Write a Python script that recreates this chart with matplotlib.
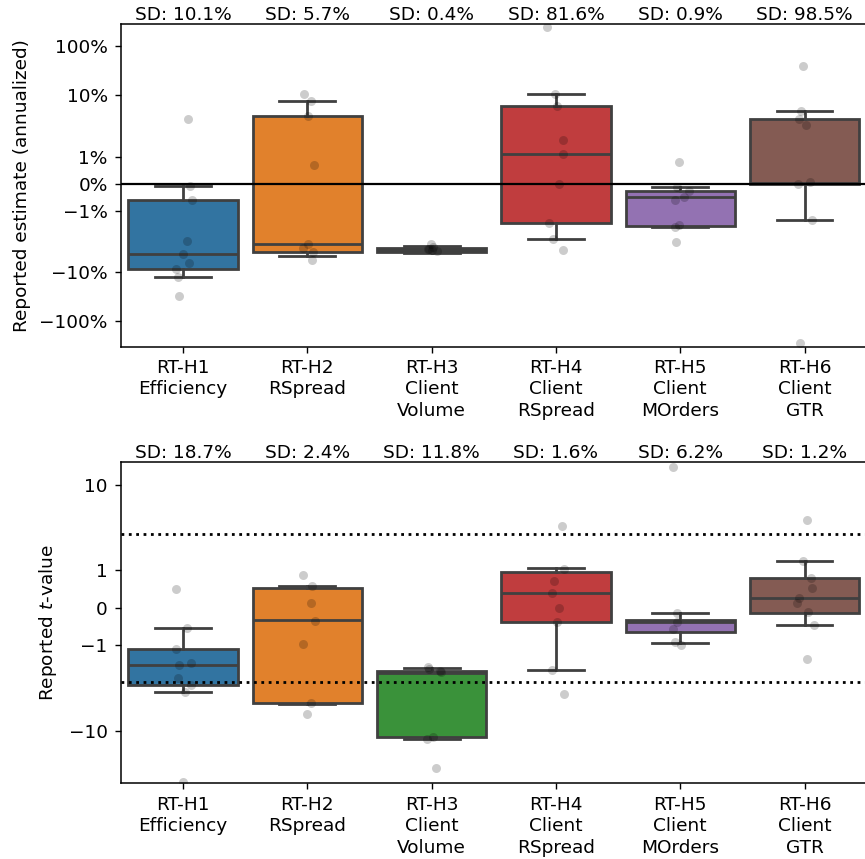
import matplotlib
matplotlib.use('Agg')
import matplotlib.pyplot as plt
from matplotlib.ticker import FixedLocator, FuncFormatter, NullLocator

# ---------------- data ----------------
categories = ['RT-H1\nEfficiency', 'RT-H2\nRSpread', 'RT-H3\nClient\nVolume',
              'RT-H4\nClient\nRSpread', 'RT-H5\nClient\nMOrders', 'RT-H6\nClient\nGTR']
colors = ['#3274a1', '#e1812c', '#3a923a', '#c03d3e', '#9372b2', '#845b53']

# top panel: reported estimate (annualized, %)
est_sd = [10.1, 5.7, 0.4, 81.6, 0.9, 98.5]
est_whislo = [-12.8, -4.7, -4.0, -2.07, -1.58, -1.35]
est_q1 = [-8.76, -3.87, -3.85, -1.46, -1.55, 0.0]
est_med = [-4.26, -2.7, -3.5, 1.09, -0.48, 0.03]
est_q3 = [-0.60, 3.76, -3.27, 6.04, -0.26, 3.27]
est_whishi = [-0.07, 7.5, -2.96, 10.5, -0.11, 4.7]

est_h1 = [3.3, -0.07, -0.6, -2.34, -4.3, -6.4, -8.8, -12.8, -30.9]
est_h2 = [10.8, 7.5, 3.76, 0.70, -2.7, -3.25, -3.9, -5.6]
est_h3 = [-2.6, -3.0, -3.3, -3.4, -3.5, -3.7]
est_h4 = [251.0, 10.8, 6.0, 1.6, 1.09, 0.0, -1.45, -2.07, -3.5]
est_h5 = [0.80, -0.12, -0.26, -0.48, -0.61, -1.51, -1.61, -2.38]
est_h6 = [40.4, 4.7, 3.27, 2.5, 0.0, 0.06, -1.35, -288.0]
est_points = [est_h1, est_h2, est_h3, est_h4, est_h5, est_h6]

# bottom panel: reported t-value
t_sd = [18.7, 2.4, 11.8, 1.6, 6.2, 1.2]
t_whislo = [-2.72, -4.0, -13.3, -1.65, -0.94, -0.47]
t_q1 = [-2.13, -3.87, -12.3, -0.37, -0.63, -0.13]
t_med = [-1.52, -0.33, -1.72, 0.38, -0.37, 0.25]
t_q3 = [-1.08, 0.53, -1.67, 0.95, -0.33, 0.79]
t_whishi = [-0.55, 0.58, -1.59, 1.05, -0.13, 1.25]

t_h1 = [0.50, -0.55, -1.08, -1.52, -1.46, -1.85, -2.13, -2.72, -56.4]
t_h2 = [0.87, 0.57, 0.12, -0.34, -0.97, -3.85, -5.74]
t_h3 = [-1.56, -1.62, -1.67, -1.70, -12.3, -13.2, -35.7]
t_h4 = [2.47, 1.02, 0.70, 0.39, 0.0, -0.37, -1.65, -2.91]
t_h5 = [18.0, -0.13, -0.37, -0.56, -0.91, -0.99]
t_h6 = [3.03, 1.25, 0.78, 0.53, 0.25, 0.12, -0.12, -0.47, -1.35]
t_points = [t_h1, t_h2, t_h3, t_h4, t_h5, t_h6]

t_crit = 1.96

# horizontal strip offsets (layout only)
est_jit = [
    [0.043, 0.056, 0.068, 0.035, -0.005, 0.048, -0.059, -0.040, -0.032],
    [-0.028, 0.028, 0.006, 0.055, 0.002, -0.039, 0.047, 0.039],
    [-0.008, 0.008, -0.020, -0.027, 0.000, 0.040],
    [-0.072, -0.005, 0.009, 0.057, 0.057, 0.027, -0.053, -0.026, 0.055],
    [-0.006, -0.023, 0.069, 0.031, -0.043, -0.006, -0.043, -0.033],
    [-0.016, -0.029, -0.043, 0.011, -0.051, 0.046, 0.064, -0.040],
]
t_jit = [
    [-0.061, 0.035, -0.061, -0.037, 0.060, -0.045, 0.060, 0.014, -0.005],
    [-0.039, 0.036, 0.031, 0.058, -0.034, 0.026, -0.002],
    [-0.027, -0.019, 0.067, 0.075, 0.013, -0.040, 0.035],
    [0.047, 0.065, -0.015, -0.034, 0.023, 0.011, -0.029, 0.065],
    [-0.055, -0.027, -0.027, -0.055, -0.041, 0.007],
    [0.022, -0.013, 0.054, 0.064, -0.043, -0.059, 0.032, 0.078, 0.019],
]

est_ticks = [-100, -10, -1, 0, 1, 10, 100]
t_ticks = [-10, -1, 0, 1, 10]

# ---------------- figure ----------------
FS = 13.3
plt.rcParams['font.family'] = ['DejaVu Sans']
plt.rcParams['font.size'] = FS
plt.rcParams['axes.linewidth'] = 1.1

fig = plt.figure(figsize=(8.65, 8.59), dpi=100)
ax1 = fig.add_axes([0.1399, 0.5964, 0.8620, 0.3757])
ax2 = fig.add_axes([0.1399, 0.0881, 0.8620, 0.3744])

GRAY = '#404040'


def draw(ax, whislo, q1, med, q3, whishi, points, jit, sds):
    stats = []
    for i in range(len(categories)):
        stats.append(dict(whislo=whislo[i], q1=q1[i], med=med[i], q3=q3[i],
                          whishi=whishi[i], fliers=[]))
    bp = ax.bxp(stats, positions=list(range(len(categories))), widths=0.88,
                capwidths=0.45, patch_artist=True, showfliers=False,
                manage_ticks=False,
                boxprops=dict(edgecolor=GRAY, linewidth=2),
                whiskerprops=dict(color=GRAY, linewidth=2),
                capprops=dict(color=GRAY, linewidth=2),
                medianprops=dict(color=GRAY, linewidth=2))
    for patch, c in zip(bp['boxes'], colors):
        patch.set_facecolor(c)
        patch.set_zorder(2)
    for i, (vals, offs) in enumerate(zip(points, jit)):
        xs = [i + o for o in offs]
        ax.scatter(xs, vals, s=42, color='black', alpha=0.2, linewidths=0,
                   zorder=4)
    ax.set_yscale('symlog', linthresh=2, linscale=1)
    ax.set_xlim(-0.5, len(categories) - 0.5)
    ax.set_xticks(range(len(categories)))
    ax.set_xticklabels(categories, linespacing=1.25)
    ax.tick_params(axis='x', length=4.3, width=1.0, pad=4.5, labelsize=FS)
    ax.tick_params(axis='y', length=4.3, width=1.0, pad=5.3, labelsize=FS)
    ax.yaxis.set_minor_locator(NullLocator())
    for i, sd in enumerate(sds):
        ax.annotate(f'SD: {sd}%', xy=(i, 1.0), xycoords=('data', 'axes fraction'),
                    xytext=(0, 2.5), textcoords='offset points',
                    ha='center', va='baseline', fontsize=FS)


draw(ax1, est_whislo, est_q1, est_med, est_q3, est_whishi, est_points, est_jit, est_sd)
ax1.axhline(0, color='black', linewidth=1.6, zorder=3)
ax1.set_ylim(-335, 287)
ax1.yaxis.set_major_locator(FixedLocator(est_ticks))
ax1.yaxis.set_major_formatter(FuncFormatter(
    lambda v, p: f'{v:.0f}%'.replace('-', '\u2212')))
ax1.set_ylabel('Reported estimate (annualized)', fontsize=FS)
ax1.yaxis.set_label_coords(-0.1208, 0.5)

draw(ax2, t_whislo, t_q1, t_med, t_q3, t_whishi, t_points, t_jit, t_sd)
ax2.axhline(t_crit, color='black', linewidth=2, linestyle=':', zorder=3)
ax2.axhline(-t_crit, color='black', linewidth=2, linestyle=':', zorder=3)
ax2.set_ylim(-59.4, 21.8)
ax2.yaxis.set_major_locator(FixedLocator(t_ticks))
ax2.yaxis.set_major_formatter(FuncFormatter(
    lambda v, p: f'{v:.0f}'.replace('-', '\u2212')))
ax2.set_ylabel('Reported $t$-value', fontsize=FS)
ax2.yaxis.set_label_coords(-0.0831, 0.5)

fig.savefig('out.png', dpi=100)
